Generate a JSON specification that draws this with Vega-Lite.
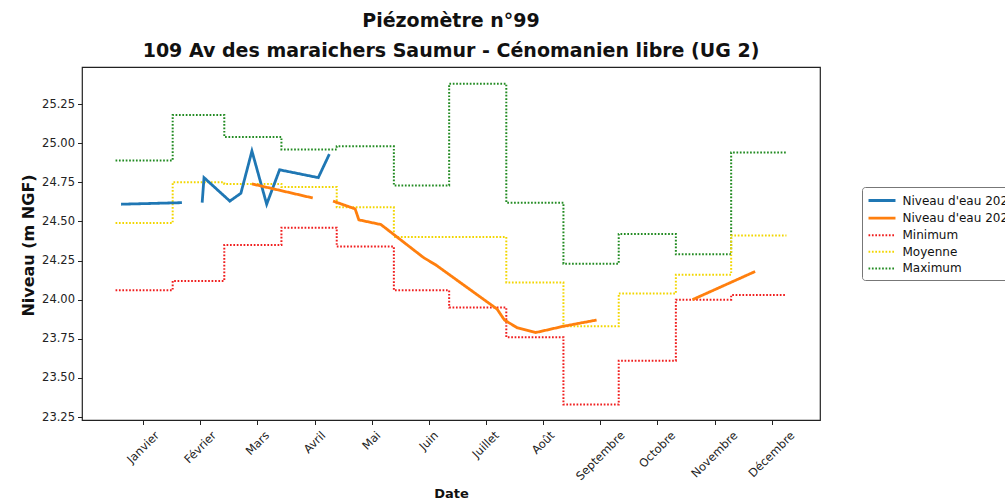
{
  "$schema": "https://vega.github.io/schema/vega-lite/v6.json",
  "autosize": "none",
  "width": 738,
  "height": 353,
  "padding": {"left": 82, "top": 67, "right": 185, "bottom": 80},
  "background": "white",
  "config": {
    "font": "DejaVu Sans",
    "view": {"stroke": "#222", "strokeWidth": 1.2},
    "axis": {"domain": false, "grid": false, "tickColor": "#222", "labelColor": "#222", "labelFont": "DejaVu Sans", "labelFontSize": 11.5, "tickSize": 4.5, "titleFont": "DejaVu Sans", "titleFontWeight": "bold", "titleColor": "#111"}
  },
  "title": {
    "text": ["Piézomètre n°99", "109 Av des maraichers Saumur - Cénomanien libre (UG 2)"],
    "font": "DejaVu Sans",
    "fontSize": 19,
    "fontWeight": "bold",
    "color": "#111",
    "anchor": "middle",
    "frame": "group",
    "lineHeight": 30,
    "offset": 6
  },
  "data": {
    "values": [
      {"kind": "stat", "serie": "Maximum", "seg": "max", "day": 1, "v": 24.89},
      {"kind": "stat", "serie": "Maximum", "seg": "max", "day": 32, "v": 25.18},
      {"kind": "stat", "serie": "Maximum", "seg": "max", "day": 60, "v": 25.04},
      {"kind": "stat", "serie": "Maximum", "seg": "max", "day": 91, "v": 24.96},
      {"kind": "stat", "serie": "Maximum", "seg": "max", "day": 121, "v": 24.98},
      {"kind": "stat", "serie": "Maximum", "seg": "max", "day": 152, "v": 24.73},
      {"kind": "stat", "serie": "Maximum", "seg": "max", "day": 182, "v": 25.38},
      {"kind": "stat", "serie": "Maximum", "seg": "max", "day": 213, "v": 24.62},
      {"kind": "stat", "serie": "Maximum", "seg": "max", "day": 244, "v": 24.23},
      {"kind": "stat", "serie": "Maximum", "seg": "max", "day": 274, "v": 24.42},
      {"kind": "stat", "serie": "Maximum", "seg": "max", "day": 305, "v": 24.29},
      {"kind": "stat", "serie": "Maximum", "seg": "max", "day": 335, "v": 24.94},
      {"kind": "stat", "serie": "Maximum", "seg": "max", "day": 365, "v": 24.94},
      {"kind": "stat", "serie": "Moyenne", "seg": "moy", "day": 1, "v": 24.49},
      {"kind": "stat", "serie": "Moyenne", "seg": "moy", "day": 32, "v": 24.75},
      {"kind": "stat", "serie": "Moyenne", "seg": "moy", "day": 60, "v": 24.74},
      {"kind": "stat", "serie": "Moyenne", "seg": "moy", "day": 91, "v": 24.72},
      {"kind": "stat", "serie": "Moyenne", "seg": "moy", "day": 121, "v": 24.59},
      {"kind": "stat", "serie": "Moyenne", "seg": "moy", "day": 152, "v": 24.40},
      {"kind": "stat", "serie": "Moyenne", "seg": "moy", "day": 182, "v": 24.40},
      {"kind": "stat", "serie": "Moyenne", "seg": "moy", "day": 213, "v": 24.11},
      {"kind": "stat", "serie": "Moyenne", "seg": "moy", "day": 244, "v": 23.83},
      {"kind": "stat", "serie": "Moyenne", "seg": "moy", "day": 274, "v": 24.04},
      {"kind": "stat", "serie": "Moyenne", "seg": "moy", "day": 305, "v": 24.16},
      {"kind": "stat", "serie": "Moyenne", "seg": "moy", "day": 335, "v": 24.41},
      {"kind": "stat", "serie": "Moyenne", "seg": "moy", "day": 365, "v": 24.41},
      {"kind": "stat", "serie": "Minimum", "seg": "min", "day": 1, "v": 24.06},
      {"kind": "stat", "serie": "Minimum", "seg": "min", "day": 32, "v": 24.12},
      {"kind": "stat", "serie": "Minimum", "seg": "min", "day": 60, "v": 24.35},
      {"kind": "stat", "serie": "Minimum", "seg": "min", "day": 91, "v": 24.46},
      {"kind": "stat", "serie": "Minimum", "seg": "min", "day": 121, "v": 24.34},
      {"kind": "stat", "serie": "Minimum", "seg": "min", "day": 152, "v": 24.06},
      {"kind": "stat", "serie": "Minimum", "seg": "min", "day": 182, "v": 23.95},
      {"kind": "stat", "serie": "Minimum", "seg": "min", "day": 213, "v": 23.76},
      {"kind": "stat", "serie": "Minimum", "seg": "min", "day": 244, "v": 23.33},
      {"kind": "stat", "serie": "Minimum", "seg": "min", "day": 274, "v": 23.61},
      {"kind": "stat", "serie": "Minimum", "seg": "min", "day": 305, "v": 24.00},
      {"kind": "stat", "serie": "Minimum", "seg": "min", "day": 335, "v": 24.03},
      {"kind": "stat", "serie": "Minimum", "seg": "min", "day": 365, "v": 24.03},
      {"kind": "niveau", "serie": "Niveau d'eau 2023", "seg": "a1", "day": 4, "v": 24.61},
      {"kind": "niveau", "serie": "Niveau d'eau 2023", "seg": "a1", "day": 37, "v": 24.62},
      {"kind": "niveau", "serie": "Niveau d'eau 2023", "seg": "a2", "day": 48, "v": 24.62},
      {"kind": "niveau", "serie": "Niveau d'eau 2023", "seg": "a2", "day": 49, "v": 24.78},
      {"kind": "niveau", "serie": "Niveau d'eau 2023", "seg": "a2", "day": 63, "v": 24.63},
      {"kind": "niveau", "serie": "Niveau d'eau 2023", "seg": "a2", "day": 69, "v": 24.68},
      {"kind": "niveau", "serie": "Niveau d'eau 2023", "seg": "a2", "day": 75, "v": 24.95},
      {"kind": "niveau", "serie": "Niveau d'eau 2023", "seg": "a2", "day": 83, "v": 24.61},
      {"kind": "niveau", "serie": "Niveau d'eau 2023", "seg": "a2", "day": 90, "v": 24.83},
      {"kind": "niveau", "serie": "Niveau d'eau 2023", "seg": "a2", "day": 111, "v": 24.78},
      {"kind": "niveau", "serie": "Niveau d'eau 2023", "seg": "a2", "day": 117, "v": 24.93},
      {"kind": "niveau", "serie": "Niveau d'eau 2024", "seg": "b1", "day": 75, "v": 24.74},
      {"kind": "niveau", "serie": "Niveau d'eau 2024", "seg": "b1", "day": 108, "v": 24.65},
      {"kind": "niveau", "serie": "Niveau d'eau 2024", "seg": "b2", "day": 119, "v": 24.63},
      {"kind": "niveau", "serie": "Niveau d'eau 2024", "seg": "b2", "day": 131, "v": 24.58},
      {"kind": "niveau", "serie": "Niveau d'eau 2024", "seg": "b2", "day": 133, "v": 24.51},
      {"kind": "niveau", "serie": "Niveau d'eau 2024", "seg": "b2", "day": 145, "v": 24.48},
      {"kind": "niveau", "serie": "Niveau d'eau 2024", "seg": "b2", "day": 168, "v": 24.27},
      {"kind": "niveau", "serie": "Niveau d'eau 2024", "seg": "b2", "day": 175, "v": 24.22},
      {"kind": "niveau", "serie": "Niveau d'eau 2024", "seg": "b2", "day": 208, "v": 23.94},
      {"kind": "niveau", "serie": "Niveau d'eau 2024", "seg": "b2", "day": 212, "v": 23.87},
      {"kind": "niveau", "serie": "Niveau d'eau 2024", "seg": "b2", "day": 219, "v": 23.82},
      {"kind": "niveau", "serie": "Niveau d'eau 2024", "seg": "b2", "day": 229, "v": 23.79},
      {"kind": "niveau", "serie": "Niveau d'eau 2024", "seg": "b2", "day": 244, "v": 23.83},
      {"kind": "niveau", "serie": "Niveau d'eau 2024", "seg": "b2", "day": 262, "v": 23.87},
      {"kind": "niveau", "serie": "Niveau d'eau 2024", "seg": "b3", "day": 314, "v": 24.00},
      {"kind": "niveau", "serie": "Niveau d'eau 2024", "seg": "b3", "day": 348, "v": 24.18}
    ]
  },
  "encoding": {
    "x": {
      "field": "day", "type": "quantitative",
      "scale": {"domain": [-17.2, 383.2], "nice": false, "zero": false},
      "axis": {
        "values": [16, 47, 78, 109, 140, 171, 202, 233, 264, 295, 326, 357],
        "labelExpr": "['Janvier','Février','Mars','Avril','Mai','Juin','Juillet','Août','Septembre','Octobre','Novembre','Décembre'][round((datum.value-16)/31)]",
        "labelAngle": -45, "labelAlign": "right", "labelBaseline": "middle",
        "labelPadding": 9, "labelOverlap": false, "labelBound": false, "labelFlush": false,
        "labelOffset": {"condition": [
          {"test": "datum.value == 16", "value": 14},
          {"test": "datum.value == 47", "value": 14},
          {"test": "datum.value == 78", "value": 10},
          {"test": "datum.value == 109", "value": 9},
          {"test": "datum.value == 140", "value": 7},
          {"test": "datum.value == 171", "value": 7.5},
          {"test": "datum.value == 202", "value": 11},
          {"test": "datum.value == 233", "value": 9.5},
          {"test": "datum.value == 264", "value": 22.5},
          {"test": "datum.value == 295", "value": 16},
          {"test": "datum.value == 326", "value": 21}
        ], "value": 21},
        "title": "Date", "titleFontSize": 13, "titleY": 73, "titleBaseline": "middle"
      }
    },
    "y": {
      "field": "v", "type": "quantitative",
      "scale": {"domain": [23.231, 25.487], "nice": false, "zero": false},
      "axis": {
        "values": [23.25, 23.5, 23.75, 24, 24.25, 24.5, 24.75, 25, 25.25],
        "format": ".2f", "labelPadding": 3,
        "title": "Niveau (m NGF)", "titleFontSize": 16, "titleX": -54, "titleY": 178,
        "titleAlign": "center", "titleBaseline": "middle", "titleAngle": 270
      }
    },
    "color": {
      "field": "serie", "type": "nominal",
      "scale": {"domain": ["Niveau d'eau 2023", "Niveau d'eau 2024", "Minimum", "Moyenne", "Maximum"], "range": ["#1f77b4", "#ff7f0e", "#f01e1e", "#f2d600", "#228b22"]},
      "legend": {
        "orient": "none", "legendX": 780, "legendY": 120, "title": null,
        "labelFont": "DejaVu Sans", "labelFontSize": 12, "labelColor": "#111",
        "symbolType": "M-2,0H2", "symbolSize": 182, "symbolOffset": 6.5,
        "strokeColor": "#777", "fillColor": "white", "cornerRadius": 3, "padding": 5,
        "rowPadding": 2.6, "labelOffset": 12, "labelLimit": 400
      }
    },
    "strokeDash": {
      "field": "serie", "type": "nominal",
      "scale": {"domain": ["Niveau d'eau 2023", "Niveau d'eau 2024", "Minimum", "Moyenne", "Maximum"], "range": [[1, 0], [1, 0], [1.7, 1.7], [1.7, 1.7], [1.7, 1.7]]}
    },
    "strokeWidth": {
      "field": "serie", "type": "nominal",
      "scale": {"type": "ordinal", "domain": ["Niveau d'eau 2023", "Niveau d'eau 2024", "Minimum", "Moyenne", "Maximum"], "range": [2.8, 2.8, 2, 2, 2]}
    },
    "detail": {"field": "seg", "type": "nominal"}
  },
  "layer": [
    {"transform": [{"filter": "datum.kind == 'stat'"}], "mark": {"type": "line", "interpolate": "step-after"}},
    {"transform": [{"filter": "datum.kind == 'niveau'"}], "mark": {"type": "line", "interpolate": "linear"}}
  ]
}
